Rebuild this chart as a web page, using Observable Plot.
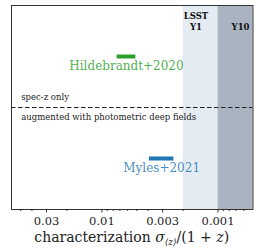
<!DOCTYPE html>
<html>
<head>
<meta charset="utf-8">
<script src="https://cdn.jsdelivr.net/npm/d3@7"></script>
<script src="https://cdn.jsdelivr.net/npm/@observablehq/plot@0.6"></script>
<style>
  html, body { margin: 0; padding: 0; background: white; }
</style>
</head>
<body>
<div id="chart"></div>
<script>
const regionNames = ["LSST Y1", "Y10"];
const regionStart = [0.002, 0.001];
const regionEnd = [0.001, 0.0005];
const regionColors = ["#e5ebf3", "#aab4c1"];
const regionLabels = ["LSST\nY1", "Y10"];
const regionLabelX = [0.00155, 0.00064];

const studies = ["Hildebrandt+2020", "Myles+2021"];
const studyHigh = [0.0074, 0.0039];
const studyLow = [0.0051, 0.0024];
const studyRow = [0.75, 0.25];
const studyColors = ["#2ca02c", "#1f77b4"];

const dividerY = [0.5];
const dividerLabels = ["spec-z only", "augmented with photometric deep fields"];

const majorTicks = [0.03, 0.01, 0.003, 0.001];
const tickLabels = ["0.03", "0.01", "0.003", "0.001"];
const minorTicks = [0.05, 0.04, 0.02, 0.009, 0.008, 0.007, 0.006, 0.005, 0.004, 0.002,
                    0.0009, 0.0008, 0.0007, 0.0006];

const regions = regionNames.map((n, i) => ({name: n, x1: regionStart[i], x2: regionEnd[i], fill: regionColors[i], label: regionLabels[i], lx: regionLabelX[i]}));
const bars = studies.map((n, i) => ({name: n, x1: studyHigh[i], x2: studyLow[i], y: studyRow[i], color: studyColors[i], xc: Math.sqrt(studyHigh[i] * studyLow[i])}));

const W = 256, H = 249, ML = 11, MR = 3.5, MT = 5, MB = 40;
const font = "DejaVu Serif";

const chart = Plot.plot({
  width: W, height: H,
  marginLeft: ML, marginRight: MR, marginTop: MT, marginBottom: MB,
  x: {type: "log", domain: [0.06, 0.0005]},
  y: {domain: [0, 1], axis: null},
  style: {fontFamily: font, fontSize: "11.5px", color: "#222", background: "white"},
  marks: [
    Plot.rectX(regions, {x1: "x1", x2: "x2", fill: "fill"}),
    Plot.text(regions, {x: "lx", text: "label", frameAnchor: "top", lineAnchor: "bottom", dy: 24.5, fontWeight: "bold", fontSize: 8.5, lineHeight: 1.27, fill: "#111"}),
    Plot.ruleY(dividerY, {stroke: "#222", strokeDasharray: "4.5,2.5", strokeWidth: 1.2}),
    Plot.text(dividerY, {y: d => d, text: () => dividerLabels[0], frameAnchor: "left", textAnchor: "start", dx: 9.7, dy: -10, fontSize: 8.5, fill: "#222"}),
    Plot.text(dividerY, {y: d => d, text: () => dividerLabels[1], frameAnchor: "left", textAnchor: "start", dx: 9.7, dy: 10, fontSize: 8.5, fill: "#222"}),
    Plot.ruleY(bars, {y: "y", x1: "x1", x2: "x2", stroke: "color", strokeWidth: 4}),
    Plot.text(bars, {x: "xc", y: "y", text: "name", fill: "color", fillOpacity: 0.85, dy: 10, fontSize: 12}),
    Plot.frame({stroke: "#333", strokeWidth: 1}),
    Plot.axisX({ticks: majorTicks, tickFormat: d => tickLabels[majorTicks.indexOf(d)], tickSize: 3.5, tickPadding: 3.5, label: null, fontSize: 11.5, stroke: "#333"}),
    Plot.axisX({ticks: minorTicks, tickFormat: () => "", tickSize: 2, label: null, stroke: "#333"})
  ]
});

document.getElementById("chart").appendChild(chart);

const svg = d3.select(chart.tagName.toLowerCase() === "svg" ? chart : chart.querySelector("svg"));
const lab = svg.append("text")
  .attr("x", (ML + W - MR) / 2)
  .attr("y", 242)
  .attr("text-anchor", "middle")
  .attr("font-family", font)
  .attr("font-size", 14)
  .attr("fill", "#222");
lab.append("tspan").text("characterization ");
lab.append("tspan").attr("font-style", "italic").text("σ");
lab.append("tspan").attr("font-size", 9).attr("dy", 3).attr("font-style", "italic").text("⟨z⟩");
lab.append("tspan").attr("dy", -3).text("/(1 + ");
lab.append("tspan").attr("font-style", "italic").text("z");
lab.append("tspan").text(")");
</script>
</body>
</html>
